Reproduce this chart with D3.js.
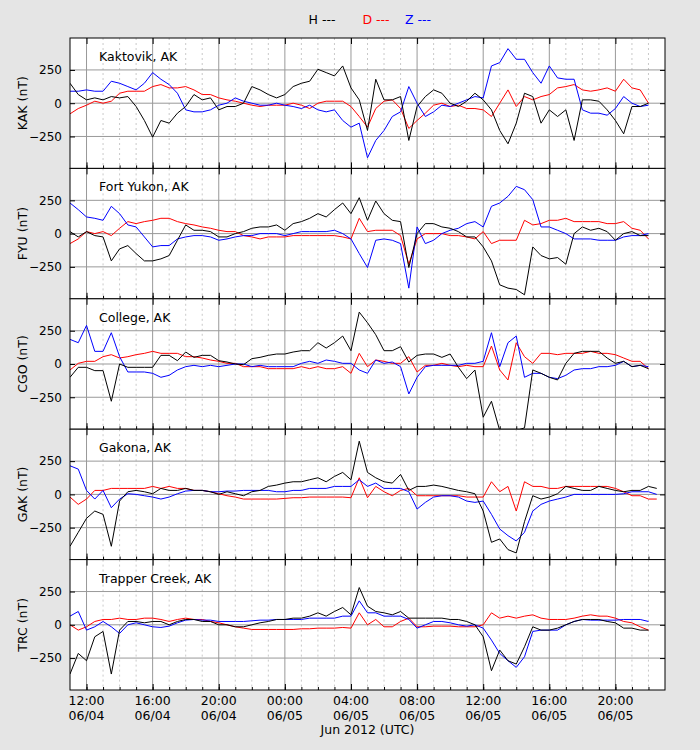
<!DOCTYPE html>
<html><head><meta charset="utf-8">
<script src="https://cdn.jsdelivr.net/npm/d3@7"></script>
<style>body{margin:0;background:#e5e5e5;}svg{display:block;font-family:"DejaVu Sans",sans-serif;}</style>
</head><body><svg id="c" width="700" height="750"></svg>
<script>
// time in hours since 2012-06-04 11:00 UTC, sampled every 30 min
const stations = ["Kaktovik, AK","Fort Yukon, AK","College, AK","Gakona, AK","Trapper Creek, AK"];
const codes = ["KAK","FYU","CGO","GAK","TRC"];
const components = ["H","D","Z"];
const colors = ["black","red","blue"];
const xTickLabels = ["12:00\n06/04","16:00\n06/04","20:00\n06/04","00:00\n06/05","04:00\n06/05","08:00\n06/05","12:00\n06/05","16:00\n06/05","20:00\n06/05"];
const yTicks = [-250,0,250];

const KAK_H=[150,65,25,40,25,50,40,50,-25,-130,-255,-130,-150,-75,-25,65,25,40,-50,-25,-25,0,125,100,65,40,65,125,150,165,255,230,205,280,115,25,-205,180,25,25,50,-280,-25,50,100,75,0,-25,15,75,25,-50,-205,-305,-150,75,50,-150,-50,-100,-50,-280,25,25,15,-50,-130,-230,-25,-25,0];
const KAK_D=[-80,-40,-15,15,0,15,75,90,90,90,125,140,115,115,125,100,65,65,40,25,15,0,-15,-25,-15,-15,-15,0,-15,-40,0,15,15,15,-25,-100,-180,-40,15,25,-40,-190,-130,-75,-15,0,-25,-15,-40,-40,-50,-100,0,100,-25,50,25,50,65,115,125,140,100,90,100,115,90,180,115,100,0];
const KAK_Z=[90,90,100,90,90,165,150,125,100,150,230,180,140,75,-50,-65,-65,-50,-15,0,40,15,0,-15,-15,0,-15,-25,-40,-15,-50,-65,-50,-130,-180,-150,-410,-280,-205,-100,-65,125,0,-100,-65,-15,-25,0,25,50,40,280,305,410,330,330,230,150,280,190,180,180,-50,-75,-75,-90,-40,50,0,-25,-15];
const FYU_H=[15,-25,15,-15,-25,-205,-115,-90,-150,-205,-205,-190,-165,-50,65,25,25,15,-25,-25,0,15,40,50,50,65,25,75,90,115,150,125,180,230,150,270,100,245,150,100,90,-255,0,75,75,50,40,15,-25,-25,-100,-205,-385,-410,-420,-460,-100,-165,-190,-180,-230,0,50,25,40,15,-50,0,15,-15,-15];
const FYU_D=[-75,-40,15,0,15,-15,40,90,75,90,100,115,115,90,75,65,50,40,25,15,15,-15,-25,-40,-25,-25,-25,-15,-15,-15,-15,-15,-15,-25,-40,115,15,25,25,25,-15,-230,-40,0,0,0,-15,-15,-25,-40,15,-75,-50,-50,-50,100,65,75,100,100,115,90,90,90,90,75,75,90,40,25,-40];
const FYU_Z=[230,180,125,115,100,205,150,65,50,-25,-100,-90,-90,-40,-25,-15,-15,-25,-50,-40,-25,-15,-15,0,0,0,-15,0,15,15,15,15,25,0,-40,-150,-255,-50,-40,-50,-75,-410,50,-75,-50,0,25,40,75,90,50,205,230,280,355,330,255,50,50,25,0,-40,-40,-40,-50,-50,-50,-25,-15,-15,0];
const CGO_H=[-100,-25,-25,-50,-50,-280,0,-25,-25,-25,-25,65,65,25,90,50,65,65,25,15,0,-5,40,50,65,75,75,90,100,100,160,120,160,210,100,390,310,220,100,100,130,15,65,75,75,50,75,-25,-110,-45,-400,-280,-500,-500,-500,-480,-45,-70,-100,-120,5,80,95,95,95,45,5,20,-20,-10,-35];
const CGO_D=[-45,5,20,20,55,70,45,55,70,80,95,80,80,80,55,55,45,30,20,5,5,-20,-20,-20,-35,-35,-35,-35,-20,-35,-20,-35,-35,-20,-70,80,-20,30,20,5,5,55,-60,-10,-10,5,-10,-20,-10,-20,-20,135,-45,-120,160,55,5,80,80,70,80,80,80,95,80,80,70,45,20,20,-35];
const CGO_Z=[185,160,290,95,95,235,55,-60,-60,-60,-70,-100,-85,-45,-20,-10,-20,-10,-20,-10,0,0,-20,-10,-20,-20,-20,-20,5,20,5,30,20,5,5,-45,-70,30,5,15,-20,-225,-100,-20,-10,-10,-10,-10,5,5,20,235,-20,160,210,-100,-70,-70,-100,-110,-85,-45,-35,-35,-20,-20,-10,20,-20,-10,-20];
const GAK_H=[-390,-285,-180,-125,-150,-390,-50,20,30,20,5,45,30,30,45,30,30,20,0,20,5,-10,20,30,60,70,85,95,95,110,125,95,135,165,110,400,165,125,95,85,150,30,60,60,70,60,45,30,20,5,-125,-360,-335,-415,-440,-205,-10,-35,-20,5,60,45,30,30,60,45,30,20,30,30,60,45];
const GAK_D=[-20,-75,-35,30,30,45,45,45,45,45,60,45,60,45,45,30,30,20,5,-10,-20,-35,-35,-35,-35,-35,-30,-25,-25,-20,-20,-20,-20,-20,-25,125,-25,60,20,-10,30,45,-10,-10,-10,-10,-10,-10,-20,-20,-20,95,20,60,-125,95,60,60,45,45,60,60,60,60,60,60,45,20,-10,-10,-35,-35];
const GAK_Z=[215,190,30,-35,30,-100,-35,5,0,-10,-20,-35,-20,5,25,30,30,20,20,25,25,30,30,30,30,20,20,30,30,45,45,45,60,60,60,110,60,85,45,45,45,20,-110,-60,-20,-10,-10,-20,-50,-60,-50,-150,-260,-310,-350,-285,-125,-75,-50,-35,-20,0,0,0,0,0,0,5,20,20,20,0];
const TRC_H=[-370,-215,-270,-90,-50,-370,-40,25,25,15,25,25,0,25,40,40,25,25,0,0,-15,-15,0,15,25,40,40,50,50,65,90,65,100,130,75,280,140,100,90,75,100,50,50,50,50,50,40,40,25,0,-90,-345,-190,-270,-295,-165,-15,-40,-40,-25,0,25,40,40,40,25,15,-25,-25,-40,-40];
const TRC_D=[0,-40,-15,25,40,40,50,40,40,50,50,40,25,40,50,40,40,25,15,0,-15,-25,-35,-35,-35,-35,-35,-35,-30,-30,-25,-25,-25,-20,-25,90,0,40,-15,-15,25,50,-15,-15,-10,-10,-10,-15,-15,-15,0,90,50,65,50,65,75,50,40,40,40,50,65,75,65,65,50,25,15,-15,-40];
const TRC_Z=[65,100,-40,-15,25,-15,-65,0,15,0,-15,-20,-10,15,35,40,35,35,25,25,25,25,30,35,35,40,40,40,40,50,50,50,50,65,65,180,90,90,65,65,65,40,-25,0,25,25,15,0,-10,0,-25,-115,-215,-270,-320,-240,-50,-40,-40,-40,0,25,40,35,35,35,35,40,40,40,25];

const series = [[KAK_H,KAK_D,KAK_Z],[FYU_H,FYU_D,FYU_Z],[CGO_H,CGO_D,CGO_Z],[GAK_H,GAK_D,GAK_Z],[TRC_H,TRC_D,TRC_Z]];

const svg = d3.select("#c");
const L=70,R=665,T=38,PH=130.4;
const x = d3.scaleLinear().domain([0,36]).range([L,R]);
const majors = d3.range(1,36,4), minors = d3.range(1,36,1);

series.forEach((ser,p)=>{
  const top=T+p*PH, bot=top+PH;
  const y = d3.scaleLinear().domain([-490,490]).range([bot,top]);
  const g = svg.append("g");
  g.append("rect").attr("x",L).attr("y",top).attr("width",R-L).attr("height",PH).attr("fill","white");
  g.selectAll(".mn").data(minors.filter(m=>!majors.includes(m))).join("line")
    .attr("x1",d=>x(d)).attr("x2",d=>x(d)).attr("y1",top).attr("y2",bot)
    .attr("stroke","#bbb").attr("stroke-dasharray","2,3").attr("stroke-width",0.8);
  g.selectAll(".mj").data(majors).join("line")
    .attr("x1",d=>x(d)).attr("x2",d=>x(d)).attr("y1",top).attr("y2",bot)
    .attr("stroke","#999").attr("stroke-width",1);
  g.selectAll(".yg").data(yTicks).join("line")
    .attr("x1",L).attr("x2",R).attr("y1",d=>y(d)).attr("y2",d=>y(d))
    .attr("stroke","#999").attr("stroke-width",1);
  const clip = "clip"+p;
  svg.append("clipPath").attr("id",clip).append("rect").attr("x",L).attr("y",top).attr("width",R-L).attr("height",PH);
  const line = d3.line().x((d,i)=>x(i*0.5)).y(d=>y(d));
  [1,2,0].forEach(k=>{
    g.append("path").datum(ser[k]).attr("d",line).attr("fill","none")
      .attr("stroke",colors[k]).attr("stroke-width",1).attr("clip-path",`url(#${clip})`);
  });
  // axes with inward ticks
  const ya = d3.axisLeft(y).tickValues(yTicks).tickSize(-5).tickPadding(8);
  const yaG = g.append("g").attr("transform",`translate(${L},0)`).call(ya);
  yaG.select(".domain").remove();
  yaG.selectAll("text").attr("font-size",12).attr("font-family","DejaVu Sans");
  g.append("g").attr("transform",`translate(${R},0)`).call(d3.axisRight(y).tickValues(yTicks).tickSize(-5).tickFormat("")).select(".domain").remove();
  g.append("g").attr("transform",`translate(0,${bot})`).call(d3.axisBottom(x).tickValues(minors).tickSize(-3).tickFormat("")).select(".domain").remove();
  g.append("g").attr("transform",`translate(0,${bot})`).call(d3.axisBottom(x).tickValues(majors).tickSize(-6).tickFormat("")).select(".domain").remove();
  g.append("g").attr("transform",`translate(0,${top})`).call(d3.axisTop(x).tickValues(majors).tickSize(-6).tickFormat("")).select(".domain").remove();
  g.append("rect").attr("x",L).attr("y",top).attr("width",R-L).attr("height",PH).attr("fill","none").attr("stroke","black").attr("stroke-width",1);
  g.append("text").attr("x",99).attr("y",top+23).attr("font-size",12.5).text(stations[p]);
  g.append("text").attr("transform",`translate(27,${(top+bot)/2}) rotate(-90)`).attr("text-anchor","middle").attr("font-size",12.5).text(codes[p]+" (nT)");
});

const bottom = T+5*PH;
const xl = svg.append("g").selectAll("text").data(majors).join("text")
  .attr("text-anchor","middle").attr("font-size",12.5);
xl.each(function(d,i){
  const parts = xTickLabels[i].split("\n");
  d3.select(this).selectAll("tspan").data(parts).join("tspan")
    .attr("x",x(d)).attr("y",(t,j)=>bottom+15+j*15).text(t=>t);
});
svg.append("text").attr("x",(L+R)/2).attr("y",bottom+44).attr("text-anchor","middle").attr("font-size",12.5).text("Jun 2012 (UTC)");

const leg = [["H ---",322],["D ---",376],["Z ---",418]];
svg.selectAll(".lg").data(leg).join("text").attr("x",d=>d[1]).attr("y",24).attr("text-anchor","middle")
  .attr("font-size",12.5).attr("fill",(d,i)=>colors[i]).text(d=>d[0]);
</script></body></html>
